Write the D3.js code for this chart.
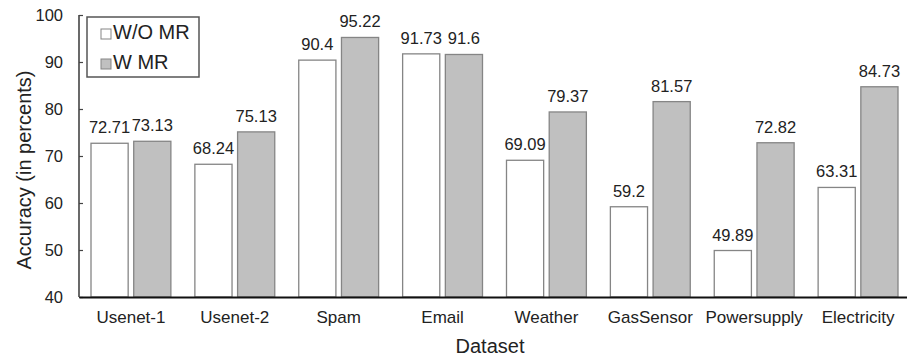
<!DOCTYPE html>
<html>
<head>
<meta charset="utf-8">
<script src="https://cdn.jsdelivr.net/npm/d3@7"></script>
<style>
  html, body { margin: 0; padding: 0; background: #fff; }
  svg text { font-family: Arial, "Liberation Sans", sans-serif; fill: #222; }
</style>
</head>
<body>
<svg id="chart" width="907" height="360"></svg>
<script>
const categories = ["Usenet-1", "Usenet-2", "Spam", "Email", "Weather", "GasSensor", "Powersupply", "Electricity"];
const seriesNames = ["W/O MR", "W MR"];
const withoutMR = [72.71, 68.24, 90.4, 91.73, 69.09, 59.2, 49.89, 63.31];
const withMR = [73.13, 75.13, 95.22, 91.6, 79.37, 81.57, 72.82, 84.73];
const yTicks = [40, 50, 60, 70, 80, 90, 100];
const seriesColors = ["#ffffff", "#c0c0c0"];

const svg = d3.select("#chart");
const mLeft = 79, mRight = 910, mTop = 15, mBottom = 297;

const x0 = d3.scaleBand().domain(categories).range([mLeft, mRight]).paddingInner(0).paddingOuter(0);
const x1 = d3.scaleBand().domain(seriesNames).range([12, x0.bandwidth() - 12]).paddingInner(0.13);
const y = d3.scaleLinear().domain([40, 100]).range([mBottom, mTop]);

const data = categories.map((c, i) => ({ cat: c, vals: [withoutMR[i], withMR[i]] }));

// bars
const groups = svg.append("g").selectAll("g").data(data).join("g")
  .attr("transform", d => `translate(${x0(d.cat)},0)`);

groups.selectAll("rect").data(d => d.vals.map((v, j) => ({ v, j })))
  .join("rect")
  .attr("x", d => x1(seriesNames[d.j]))
  .attr("width", x1.bandwidth())
  .attr("y", d => y(d.v))
  .attr("height", d => y(40) - y(d.v))
  .attr("fill", d => seriesColors[d.j])
  .attr("stroke", "#858585")
  .attr("stroke-width", 1.3);

groups.selectAll("text.val").data(d => d.vals.map((v, j) => ({ v, j })))
  .join("text")
  .attr("class", "val")
  .attr("x", d => x1(seriesNames[d.j]) + x1.bandwidth() / 2)
  .attr("y", d => y(d.v) - 10)
  .attr("text-anchor", "middle")
  .attr("font-size", "16.5px")
  .text(d => String(d.v));

// y axis
const yAxis = d3.axisLeft(y).tickValues(yTicks).tickSize(-4).tickPadding(16).tickFormat(d3.format("d"));
const gy = svg.append("g").attr("transform", `translate(${mLeft},0)`).call(yAxis);
gy.select(".domain").attr("stroke", "#444").attr("stroke-width", 1.6).attr("d", `M0,${mTop}V${mBottom}`);
gy.selectAll(".tick line").attr("stroke", "#444").attr("stroke-width", 1.2);
gy.selectAll(".tick text").attr("font-size", "16.5px").attr("font-family", "Arial, 'Liberation Sans', sans-serif").attr("fill", "#222");

// x axis
const xAxis = d3.axisBottom(x0).tickSize(0).tickPadding(14);
const gx = svg.append("g").attr("transform", `translate(0,${mBottom})`).call(xAxis);
gx.select(".domain").attr("stroke", "#111").attr("stroke-width", 2.2);
gx.selectAll(".tick text").attr("font-size", "17px").attr("font-family", "Arial, 'Liberation Sans', sans-serif").attr("fill", "#222");

// axis titles
svg.append("text")
  .attr("transform", "translate(31,170) rotate(-90)")
  .attr("text-anchor", "middle")
  .attr("font-size", "20px")
  .text("Accuracy (in percents)");

svg.append("text")
  .attr("x", 490)
  .attr("y", 353)
  .attr("text-anchor", "middle")
  .attr("font-size", "20px")
  .text("Dataset");

// legend
const lg = svg.append("g");
lg.append("rect").attr("x", 87).attr("y", 17).attr("width", 112).attr("height", 60)
  .attr("fill", "#fff").attr("stroke", "#555").attr("stroke-width", 1.5);
seriesNames.forEach((name, i) => {
  lg.append("rect").attr("x", 101).attr("y", 29 + i * 30).attr("width", 10).attr("height", 10)
    .attr("fill", seriesColors[i]).attr("stroke", "#858585").attr("stroke-width", 1);
  lg.append("text").attr("x", 113).attr("y", 39 + i * 30).attr("font-size", "20px").text(name);
});
</script>
</body>
</html>
